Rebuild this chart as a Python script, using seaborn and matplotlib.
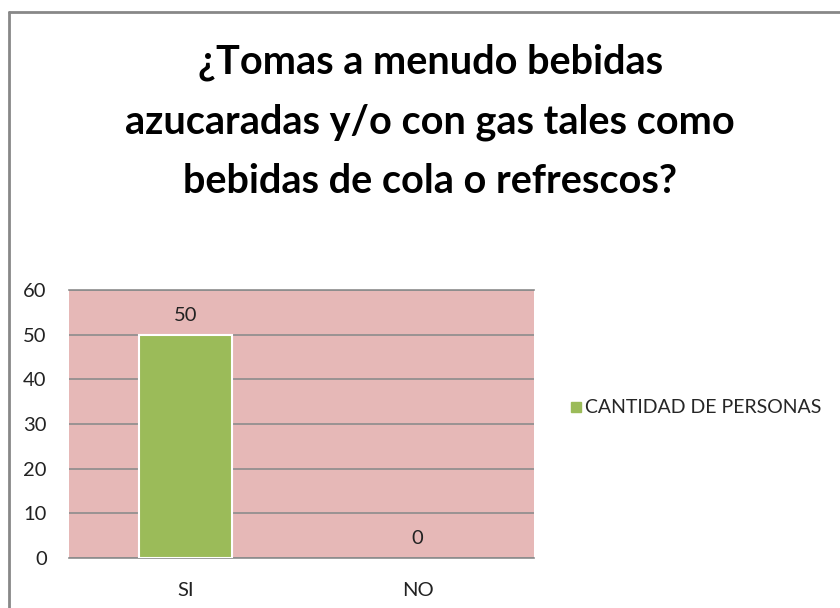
import matplotlib
matplotlib.use("Agg")
import matplotlib.pyplot as plt
import matplotlib.lines as mlines
import seaborn as sns

# Survey data
categories = ["SI", "NO"]
values = [50, 0]
series_name = "CANTIDAD DE PERSONAS"
title = "¿Tomas a menudo bebidas\nazucaradas y/o con gas tales como\nbebidas de cola o refrescos?"
y_ticks = [0, 10, 20, 30, 40, 50, 60]

sns.set_style("white")
plt.rcParams["font.family"] = ["Lato", "DejaVu Sans"]

fig = plt.figure(figsize=(8.4, 6.08), dpi=100)
ax = fig.add_axes([0.0821, 0.0822, 0.5536, 0.4408])

sns.barplot(x=categories, y=values, color="#9BBB59", width=0.4,
            edgecolor="white", linewidth=1.5, label=series_name, ax=ax,
            saturation=1, zorder=3)
# hide the outline of empty bars
for p in ax.patches:
    if p.get_height() == 0:
        p.set_linewidth(0)

ax.set_facecolor("#E6B8B7")
ax.set_ylim(0, 60)
ax.set_yticks(y_ticks)
ax.yaxis.grid(True, color="#8C8C8C", linewidth=1.2, zorder=0)
ax.set_axisbelow(True)
for side in ["left", "right"]:
    ax.spines[side].set_visible(False)
for side in ["top", "bottom"]:
    ax.spines[side].set_color("#8C8C8C")
    ax.spines[side].set_linewidth(1.2)
ax.tick_params(axis="both", length=0, labelsize=14.5, colors="#222222")
ax.tick_params(axis="y", pad=16)
ax.tick_params(axis="x", pad=17)
ax.set_xlabel("")
ax.set_ylabel("")

for c in ax.containers:
    ax.bar_label(c, fmt="%g", padding=8, fontsize=14.5, color="#222222")

handle = mlines.Line2D([], [], marker="s", linestyle="none", markersize=7,
                       color="#9BBB59")
ax.legend([handle], [series_name], loc="center left",
          bbox_to_anchor=(1.06, 0.56), frameon=False, fontsize=14,
          handletextpad=0.2, handlelength=0.6, borderaxespad=0)

fig.text(0.512, 0.80, title, ha="center", va="center", fontsize=28.5,
         fontweight="bold", linespacing=1.75, color="black")

# chart frame (only top and left edges visible)
fig.add_artist(mlines.Line2D([9 / 840, 9 / 840], [0, 1 - 12 / 608],
                             transform=fig.transFigure, color="#888888", lw=2))
fig.add_artist(mlines.Line2D([9 / 840, 1], [1 - 12 / 608, 1 - 12 / 608],
                             transform=fig.transFigure, color="#888888", lw=2))

fig.savefig("out.png", dpi=100, facecolor="white")
